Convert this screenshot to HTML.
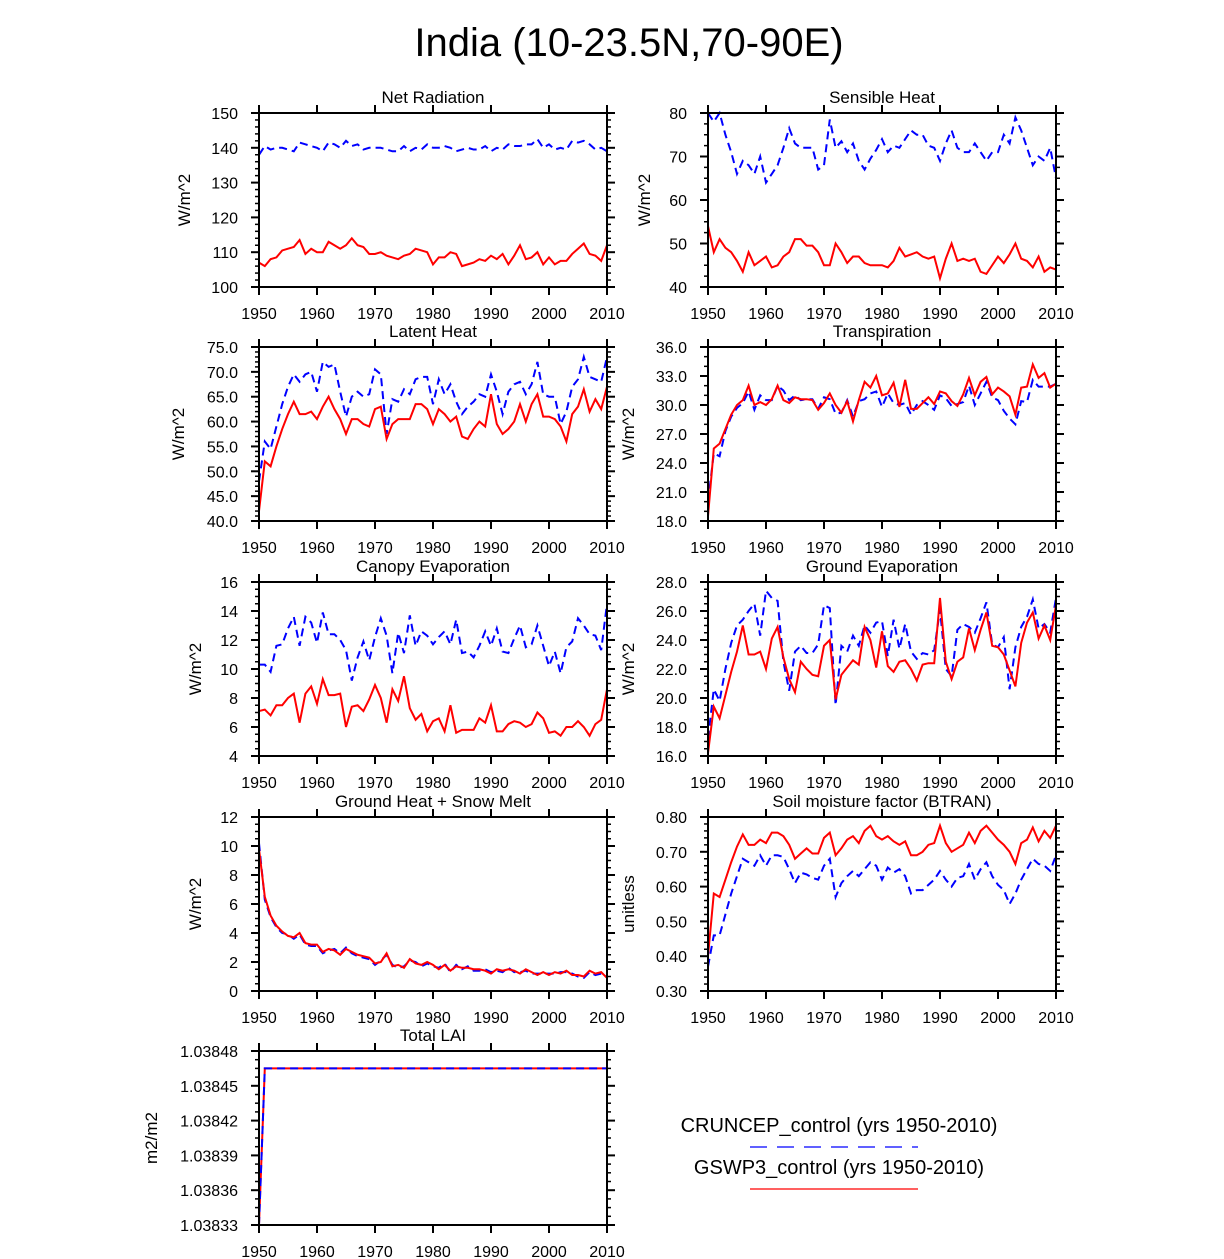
<!DOCTYPE html>
<html><head><meta charset="utf-8"><style>
html,body{margin:0;padding:0;background:#fff;}
svg{display:block;font-family:"Liberation Sans",Arial,sans-serif;}
</style></head><body>
<svg id="chart" width="1224" height="1259" viewBox="0 0 1224 1259" xmlns="http://www.w3.org/2000/svg">
<text x="629" y="56" font-size="40" text-anchor="middle">India (10-23.5N,70-90E)</text>
<g>
<text x="839" y="1132" font-size="20" text-anchor="middle">CRUNCEP_control (yrs 1950-2010)</text>
<line x1="750" y1="1147" x2="918" y2="1147" stroke="#0000ff" stroke-width="1.2" stroke-dasharray="17,10"/>
<text x="839" y="1174" font-size="20" text-anchor="middle">GSWP3_control (yrs 1950-2010)</text>
<line x1="750" y1="1189" x2="918" y2="1189" stroke="#ff0000" stroke-width="1.2"/>
</g>
</svg>
<script>
const years = Array.from({length:61},(_,i)=>1950+i);
const netRadRed=[107,106,108,108.5,110.5,111,111.5,113.5,109.5,111,110,110,113,112,111,112,114,112,111.5,109.5,109.5,110,109,108.5,108,109,109.5,111,110.5,110,106.5,108.5,108.5,110,109.5,106,106.5,107,108,107.5,109,108,109.5,106.5,109,112,108,108.5,110,106.5,108.5,106.5,107.5,107.5,109.5,111,112.5,109.5,109,107.5,112];
const netRadBlue=[138,140.5,139.5,140,140,139.5,139,141.5,141,140.5,140,139,141.5,141,140,142,140.5,141,139.5,140,140,140,139.5,139,139,140.5,139,140,139.5,141,140,140,140.5,140,139,139.5,140,139.5,139.5,140.5,139,140,139.5,141,140.5,140.5,141,141,142.5,140,141,139.5,140,139.5,142,141.5,142,141,139.5,140,139];
const sensRed=[54,48,51,49,48,46,43.5,48,45,46,47,44.5,45,47,48,51,51,49.5,49.5,48,45,45,50,48,45.5,47,47,45.5,45,45,45,44.5,46,49,47,47.5,48,47,46.5,47,42,46.5,50,46,46.5,46,46.5,43.5,43,45,47,45.5,47.5,50,46.5,46,44.5,47,43.5,44.5,44];
const sensBlue=[80,78,80,75,71,66,69,68,66,70,64,66,68,72,76.5,73,72,72,72,67,68,78.5,72,73.5,71,73,69,67,69.5,71.5,74,71,72.5,72,74,76,75,75,72.5,72,69,73,76,72,71,71,73,71,69,71,71,75,73,79,76,72,68,70,69,72,65];
const latRed=[42,52,51,55,58.5,61.5,64,61.5,61.5,62,60.5,63,65,62.5,60.5,57.5,60.5,60.5,59.5,59,62.5,63,56.5,59.5,60.5,60.5,60.5,63.5,63.5,62.5,59.5,62.5,61.5,60,61,57,56.5,58.5,60,59,65.5,59.5,57.5,58.5,60,63.5,60,63.5,65.5,61,61,60.5,59,56,61.5,63,66.5,62,64.5,62.5,67];
const latBlue=[48,56,54.5,59,63.5,67,69.5,68,69.5,70,66,72,71,71.5,66,61,65,66,65,65.5,70.5,69.5,57.5,64.5,64,66.5,65.5,68.5,69,69,63.5,68.5,65.5,67.5,64,61.5,63,64,65.5,65,69.5,66,61.5,66,67.5,68,65.5,67.5,72,65.5,65,65,59.5,62,67,68.5,73,69,68.5,68,73];
const trRed=[18.5,25.5,26,27.5,29,30,30.5,32,30,30.3,30,30.6,32,30.5,30.2,30.8,30.6,30.6,30.5,29.5,30.2,31.2,30,29.2,30.4,28.3,30.5,32.4,31.8,33,31,31.2,32.3,29.8,32.6,29.6,29.6,30.2,30.8,30.1,31.4,31.2,30.4,29.9,31.1,32.8,31,32.4,32.9,31.1,31.8,31.4,30.9,29,31.8,31.9,34.2,32.8,33.3,31.8,32.2];
const trBlue=[20,25,24.7,27.3,28.8,29.7,30.2,31.4,29.5,31,30.5,30.5,32,31.5,30.5,31,30.5,30.6,30.6,29.6,30.8,30.6,29.1,29.2,30.5,28.8,30.4,30.6,31.2,31.4,29.8,31.2,30.2,30,30.2,29,30,30.4,30,29.5,31,30.7,29.9,30.1,30.3,32,30,31.2,32.4,30.8,30.5,29.4,28.6,28,30.4,30.3,32.6,31.9,31.9,31.9,32.2];
const canRed=[7.1,7.2,6.8,7.5,7.5,8,8.3,6.3,8.3,8.8,7.6,9.3,8.2,8.2,8.3,6,7.4,7.5,7.1,7.9,8.9,8,6.3,8.6,7.8,9.5,7.3,6.5,6.9,5.7,6.4,6.6,5.7,7.5,5.6,5.8,5.8,5.8,6.6,6.3,7.5,5.7,5.7,6.2,6.4,6.3,6,6.2,7,6.6,5.6,5.7,5.4,6,6,6.4,6,5.4,6.2,6.5,8.6];
const canBlue=[10.3,10.3,9.8,11.6,11.7,12.8,13.6,11.6,13.6,13.2,11.8,13.9,12.4,12.4,12,11.3,9.2,10.8,11.9,10.6,12.2,13.5,12.3,9.7,12.5,11.1,13.7,11.6,12.6,12.3,11.7,12.2,12.6,11.7,13.4,11.1,11.2,10.8,11.6,12.6,11.6,12.8,11.2,11.1,12.1,13,11.5,11.7,13,11.6,10.2,11.2,9.7,11.5,11.9,13.5,13,12.4,12.3,11.3,14.5];
const grRed=[16.2,19.4,18.6,20.2,21.8,23.2,25,23,23,23.2,22,24.1,24.9,22.8,21.3,20.4,22.5,22,21.6,21.5,23.6,24,19.9,21.6,22.1,22.6,22.3,24.9,24,22.1,24.6,22.2,21.8,22.5,22.6,22,21.2,22.3,22.4,22.4,26.9,22.5,21.3,22.5,22.8,24.8,23.3,24.7,25.9,23.6,23.5,23,21.9,20.8,23.8,25.2,25.9,24.1,25,24,26.4];
const grBlue=[17.2,20.6,19.8,22,23.8,25,25.4,26,26.5,24.3,27.4,26.9,26.7,22.5,20.5,23.2,23.6,23.1,23.1,23.7,26.4,26.2,19.5,23.6,23.2,24.3,23.6,25,24.5,25.2,25.3,22.9,25.4,23.4,25.1,23.2,22.7,23.1,23,23.3,26.1,22,21.5,24.7,25.1,24.9,24.5,25.5,26.6,23.7,23.5,24.2,20.6,23.5,24.9,25.6,26.8,24.8,25.1,24.5,26.9];
const ghRed=[9.8,6.5,5.2,4.5,4.1,3.8,3.7,4,3.3,3.2,3.2,2.7,2.9,2.8,2.5,2.9,2.7,2.5,2.4,2.3,1.9,2,2.6,1.7,1.8,1.6,2.2,1.9,1.8,2,1.8,1.5,1.8,1.4,1.7,1.6,1.6,1.5,1.5,1.4,1.2,1.5,1.4,1.5,1.4,1.2,1.5,1.3,1.1,1.3,1.1,1.3,1.2,1.4,1.1,1.1,1,1.4,1.2,1.3,0.9];
const ghBlue=[10.2,6.3,5.1,4.4,4,3.9,3.6,3.9,3.2,3.1,3.1,2.6,2.8,2.9,2.6,3,2.6,2.4,2.3,2.2,1.8,2.1,2.5,1.8,1.6,1.7,2.1,2,1.7,1.9,1.7,1.6,1.9,1.3,1.8,1.5,1.7,1.4,1.4,1.5,1.3,1.4,1.3,1.6,1.3,1.3,1.4,1.2,1.2,1.2,1.2,1.2,1.3,1.3,1.2,1.0,0.9,1.3,1.1,1.2,1.0];
const btRed=[0.40,0.58,0.57,0.62,0.67,0.715,0.75,0.72,0.72,0.735,0.725,0.755,0.755,0.745,0.72,0.68,0.695,0.71,0.695,0.695,0.74,0.755,0.69,0.71,0.735,0.745,0.725,0.76,0.775,0.745,0.735,0.745,0.73,0.72,0.73,0.69,0.69,0.70,0.72,0.725,0.775,0.725,0.70,0.71,0.72,0.755,0.725,0.76,0.775,0.755,0.735,0.72,0.70,0.665,0.725,0.735,0.77,0.73,0.76,0.74,0.775];
const btBlue=[0.37,0.46,0.46,0.52,0.58,0.63,0.68,0.67,0.66,0.69,0.66,0.69,0.69,0.685,0.65,0.61,0.64,0.635,0.625,0.62,0.66,0.68,0.57,0.61,0.63,0.645,0.63,0.65,0.67,0.66,0.62,0.655,0.64,0.65,0.63,0.58,0.59,0.59,0.605,0.62,0.645,0.62,0.60,0.625,0.63,0.665,0.62,0.65,0.67,0.63,0.605,0.59,0.55,0.58,0.62,0.65,0.68,0.665,0.66,0.645,0.69];
const laiRed=[1.03833].concat(Array(60).fill(1.038465));
const laiBlue=[1.03833].concat(Array(60).fill(1.038465));
const xTicks=[1950,1960,1970,1980,1990,2000,2010];

const NS="http://www.w3.org/2000/svg";
const svg=document.getElementById('chart');
function mk(tag,attrs,parent){const e=document.createElementNS(NS,tag);for(const k in attrs)e.setAttribute(k,attrs[k]);(parent||svg).appendChild(e);return e;}

const panels=[
 {key:'net-radiation',title:'Net Radiation',ylab:'W/m^2',x0:259,y0:113,min:100,max:150,ticks:[100,110,120,130,140,150],dec:0,minor:4,red:netRadRed,blue:netRadBlue,ylx:190},
 {key:'sensible-heat',title:'Sensible Heat',ylab:'W/m^2',x0:708,y0:113,min:40,max:80,ticks:[40,50,60,70,80],dec:0,minor:3,red:sensRed,blue:sensBlue,ylx:650},
 {key:'latent-heat',title:'Latent Heat',ylab:'W/m^2',x0:259,y0:347,min:40,max:75,ticks:[40,45,50,55,60,65,70,75],dec:1,minor:4,red:latRed,blue:latBlue,ylx:184},
 {key:'transpiration',title:'Transpiration',ylab:'W/m^2',x0:708,y0:347,min:18,max:36,ticks:[18,21,24,27,30,33,36],dec:1,minor:2,red:trRed,blue:trBlue,ylx:634},
 {key:'canopy-evaporation',title:'Canopy Evaporation',ylab:'W/m^2',x0:259,y0:582,min:4,max:16,ticks:[4,6,8,10,12,14,16],dec:0,minor:3,red:canRed,blue:canBlue,ylx:201},
 {key:'ground-evaporation',title:'Ground Evaporation',ylab:'W/m^2',x0:708,y0:582,min:16,max:28,ticks:[16,18,20,22,24,26,28],dec:1,minor:3,red:grRed,blue:grBlue,ylx:634},
 {key:'ground-heat-snow-melt',title:'Ground Heat + Snow Melt',ylab:'W/m^2',x0:259,y0:817,min:0,max:12,ticks:[0,2,4,6,8,10,12],dec:0,minor:3,red:ghRed,blue:ghBlue,ylx:201},
 {key:'soil-moisture-btran',title:'Soil moisture factor (BTRAN)',ylab:'unitless',x0:708,y0:817,min:0.3,max:0.8,ticks:[0.3,0.4,0.5,0.6,0.7,0.8],dec:2,minor:4,red:btRed,blue:btBlue,ylx:634},
 {key:'total-lai',title:'Total LAI',ylab:'m2/m2',x0:259,y0:1051,min:1.03833,max:1.03848,ticks:[1.03833,1.03836,1.03839,1.03842,1.03845,1.03848],dec:5,minor:3,red:laiRed,blue:laiBlue,ylx:157,blueTop:true}
];
const W=348,H=174;
panels.forEach(p=>{
 const g=mk('g',{});
 
 
 const xs=v=>p.x0+(v-1950)/60*W;
 const ys=v=>p.y0+H-(v-p.min)/(p.max-p.min)*H;
 const pts=a=>a.map((v,i)=>xs(years[i]).toFixed(2)+','+ys(v).toFixed(2)).join(' ');
 function drawBlue(){
  const bl=mk('polyline',{points:pts(p.blue),fill:'none',stroke:'#0000ff','stroke-width':2,'stroke-dasharray':'8,5'},g);
  
  
 }
 function drawRed(){
  const rl=mk('polyline',{points:pts(p.red),fill:'none',stroke:'#ff0000','stroke-width':2},g);
  
  
 }
 if(p.blueTop){drawRed();drawBlue();}else{drawBlue();drawRed();}
 const fr=mk('rect',{x:p.x0,y:p.y0,width:W,height:H,fill:'none',stroke:'#000','stroke-width':2},g);
 
 
 xTicks.forEach(t=>{
  const x=xs(t);
  mk('line',{x1:x,y1:p.y0+H,x2:x,y2:p.y0+H+8,stroke:'#000','stroke-width':2},g);
  mk('line',{x1:x,y1:p.y0,x2:x,y2:p.y0-8,stroke:'#000','stroke-width':2},g);
  const tl=mk('text',{x:x,y:p.y0+H+32,'font-size':16,'text-anchor':'middle'},g);
  tl.textContent=t;
  
  
 });
 p.ticks.forEach((t,i)=>{
  const y=ys(t);
  mk('line',{x1:p.x0,y1:y,x2:p.x0-8,y2:y,stroke:'#000','stroke-width':2},g);
  mk('line',{x1:p.x0+W,y1:y,x2:p.x0+W+8,y2:y,stroke:'#000','stroke-width':2},g);
  const tl=mk('text',{x:p.x0-21,y:y+6,'font-size':16,'text-anchor':'end'},g);
  tl.textContent=t.toFixed(p.dec);
  
  
  if(i<p.ticks.length-1){
   const step=(p.ticks[i+1]-t)/(p.minor+1);
   for(let m=1;m<=p.minor;m++){
    const ym=ys(t+step*m);
    mk('line',{x1:p.x0,y1:ym,x2:p.x0-4,y2:ym,stroke:'#000','stroke-width':1.5},g);
    mk('line',{x1:p.x0+W,y1:ym,x2:p.x0+W+4,y2:ym,stroke:'#000','stroke-width':1.5},g);
   }
  }
 });
 const tt=mk('text',{x:p.x0+W/2,y:p.y0-10,'font-size':17,'text-anchor':'middle'},g);
 tt.textContent=p.title;
 
 
 const yl=mk('text',{x:p.ylx,y:p.y0+H/2,'font-size':17,'text-anchor':'middle',transform:'rotate(-90 '+p.ylx+' '+(p.y0+H/2)+')'},g);
 yl.textContent=p.ylab;
 
 
});
</script>
</body></html>
